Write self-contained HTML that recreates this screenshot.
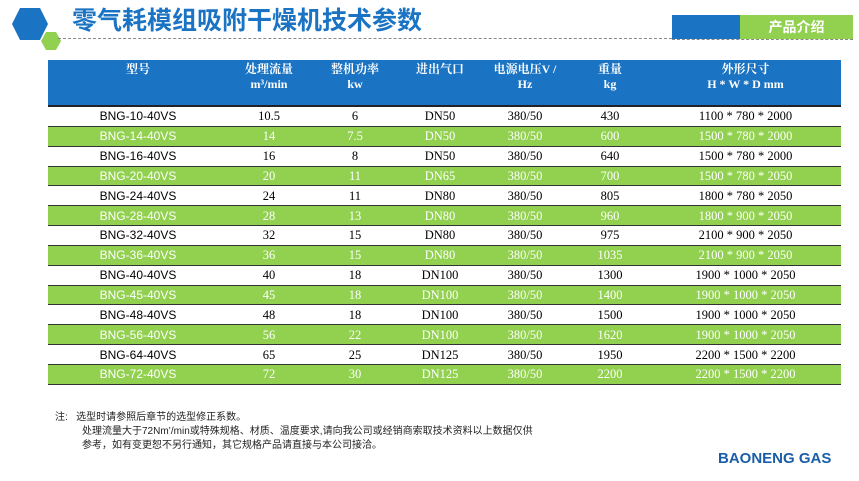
<!DOCTYPE html><html><head><meta charset="utf-8"><style>
body{margin:0;width:859px;height:481px;background:#fff;position:relative;overflow:hidden;font-family:"Liberation Sans","Noto Sans CJK SC",sans-serif}
.a{position:absolute}
table{position:absolute;left:48px;top:60px;width:793px;border-collapse:collapse;table-layout:fixed}
th{background:#1a73c3;color:#fff;font-family:"Liberation Serif","Noto Serif CJK SC",serif;font-size:12px;font-weight:bold;height:42px;vertical-align:top;padding-top:2px;line-height:15px;border-bottom:2px solid #222}
td{height:18.85px;padding:0;text-align:center;font-family:"Liberation Serif","Noto Serif CJK SC",serif;font-size:12.5px;border-bottom:1px solid #333;line-height:18px}
td:first-child{font-family:"Liberation Sans",sans-serif;font-size:12px}
tr.g td{background:#92d050;color:#fff}
.n{font-size:10px;color:#222;line-height:14px}
</style></head><body>
<svg class="a" style="left:8px;top:6px" width="60" height="44"><polygon points="12,2 32,2 40,18 32,34 12,34 4,18" fill="#1a73c3"/><polygon points="38,26 48,26 53,35 48,44 38,44 33,35" fill="#92d050"/></svg>
<div class="a" style="left:72px;top:3px;font-size:25px;font-weight:bold;color:#1a73c3;font-family:'Noto Sans CJK SC',sans-serif;line-height:32px">零气耗模组吸附干燥机技术参数</div>
<div class="a" style="left:58px;top:38px;width:614px;border-top:1px dashed #888"></div>
<div class="a" style="left:672px;top:15px;width:68px;height:24px;background:#1a73c3"></div>
<div class="a" style="left:740px;top:15px;width:113px;height:24px;background:#92d050;color:#fff;font-weight:bold;font-size:14px;text-align:center;line-height:24px">产品介绍</div>
<div class="a" style="left:672px;top:39px;width:181px;border-top:1px dashed #888"></div>
<table>
<colgroup><col style="width:180px"><col style="width:82px"><col style="width:90px"><col style="width:80px"><col style="width:90px"><col style="width:80px"><col></colgroup>
<tr><th>型号</th><th>处理流量<br>m³/min</th><th>整机功率<br>kw</th><th>进出气口</th><th>电源电压V /<br>Hz</th><th>重量<br>kg</th><th>外形尺寸<br>H * W * D mm</th></tr>
<tr><td>BNG-10-40VS</td><td>10.5</td><td>6</td><td>DN50</td><td>380/50</td><td>430</td><td>1100 * 780 * 2000</td></tr>
<tr class="g"><td>BNG-14-40VS</td><td>14</td><td>7.5</td><td>DN50</td><td>380/50</td><td>600</td><td>1500 * 780 * 2000</td></tr>
<tr><td>BNG-16-40VS</td><td>16</td><td>8</td><td>DN50</td><td>380/50</td><td>640</td><td>1500 * 780 * 2000</td></tr>
<tr class="g"><td>BNG-20-40VS</td><td>20</td><td>11</td><td>DN65</td><td>380/50</td><td>700</td><td>1500 * 780 * 2050</td></tr>
<tr><td>BNG-24-40VS</td><td>24</td><td>11</td><td>DN80</td><td>380/50</td><td>805</td><td>1800 * 780 * 2050</td></tr>
<tr class="g"><td>BNG-28-40VS</td><td>28</td><td>13</td><td>DN80</td><td>380/50</td><td>960</td><td>1800 * 900 * 2050</td></tr>
<tr><td>BNG-32-40VS</td><td>32</td><td>15</td><td>DN80</td><td>380/50</td><td>975</td><td>2100 * 900 * 2050</td></tr>
<tr class="g"><td>BNG-36-40VS</td><td>36</td><td>15</td><td>DN80</td><td>380/50</td><td>1035</td><td>2100 * 900 * 2050</td></tr>
<tr><td>BNG-40-40VS</td><td>40</td><td>18</td><td>DN100</td><td>380/50</td><td>1300</td><td>1900 * 1000 * 2050</td></tr>
<tr class="g"><td>BNG-45-40VS</td><td>45</td><td>18</td><td>DN100</td><td>380/50</td><td>1400</td><td>1900 * 1000 * 2050</td></tr>
<tr><td>BNG-48-40VS</td><td>48</td><td>18</td><td>DN100</td><td>380/50</td><td>1500</td><td>1900 * 1000 * 2050</td></tr>
<tr class="g"><td>BNG-56-40VS</td><td>56</td><td>22</td><td>DN100</td><td>380/50</td><td>1620</td><td>1900 * 1000 * 2050</td></tr>
<tr><td>BNG-64-40VS</td><td>65</td><td>25</td><td>DN125</td><td>380/50</td><td>1950</td><td>2200 * 1500 * 2200</td></tr>
<tr class="g"><td>BNG-72-40VS</td><td>72</td><td>30</td><td>DN125</td><td>380/50</td><td>2200</td><td>2200 * 1500 * 2200</td></tr>
</table>
<div class="a n" style="left:55px;top:411px">注:&nbsp;&nbsp;&nbsp;选型时请参照后章节的选型修正系数。</div>
<div class="a n" style="left:82px;top:425px">处理流量大于72Nm’/min或特殊规格、材质、温度要求,请向我公司或经销商索取技术资料以上数据仅供</div>
<div class="a n" style="left:82px;top:439px">参考，如有变更恕不另行通知，其它规格产品请直接与本公司接洽。</div>
<div class="a" style="left:718px;top:450px;font-size:15px;font-weight:bold;color:#1a5ea8;letter-spacing:0">BAONENG GAS</div>
</body></html>
